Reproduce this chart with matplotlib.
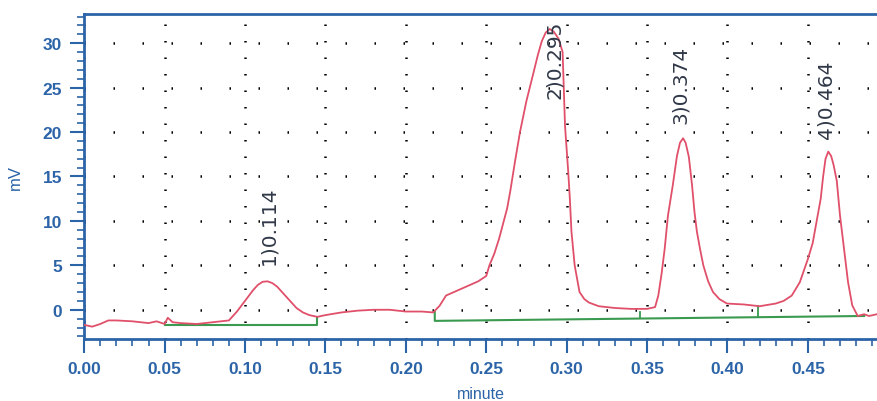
import numpy as np
import matplotlib.pyplot as plt

# 色谱曲线数据
t = [0.000, 0.005, 0.010, 0.015, 0.020, 0.030, 0.040, 0.045, 0.050, 0.052, 0.055,
     0.060, 0.070, 0.080, 0.090, 0.095, 0.100, 0.105, 0.108, 0.111, 0.114, 0.117,
     0.120, 0.124, 0.128, 0.132, 0.136, 0.140, 0.145, 0.150, 0.160, 0.170, 0.180,
     0.190, 0.200, 0.210, 0.217, 0.221, 0.225, 0.230, 0.235, 0.240, 0.245, 0.250,
     0.252, 0.255, 0.258, 0.263, 0.265, 0.268, 0.271, 0.275, 0.279, 0.282, 0.2845,
     0.287, 0.2895, 0.292, 0.295, 0.2975, 0.299, 0.301, 0.302, 0.303, 0.305, 0.308,
     0.311, 0.314, 0.320, 0.330, 0.340, 0.350, 0.355, 0.357, 0.359, 0.361, 0.363,
     0.366, 0.3686, 0.3705, 0.3724, 0.374, 0.376, 0.378, 0.3795, 0.381, 0.383,
     0.385, 0.388, 0.391, 0.395, 0.3997, 0.410, 0.420, 0.430, 0.435, 0.440, 0.445,
     0.450, 0.453, 0.455, 0.458, 0.4595, 0.461, 0.4627, 0.4645, 0.466, 0.468,
     0.470, 0.473, 0.475, 0.4776, 0.481, 0.485, 0.488, 0.493]
mv = [-1.7, -1.9, -1.6, -1.2, -1.2, -1.3, -1.5, -1.3, -1.6, -0.9, -1.4,
      -1.5, -1.6, -1.4, -1.2, -0.2, 1.0, 2.2, 2.8, 3.15, 3.2, 3.0,
      2.6, 1.8, 1.0, 0.2, -0.3, -0.6, -0.8, -0.6, -0.3, -0.1, 0.0,
      0.0, -0.2, -0.2, -0.3, 0.45, 1.6, 2.0, 2.4, 2.8, 3.2, 3.8,
      5.0, 6.3, 8.0, 11.4, 13.4, 16.8, 20.0, 23.5, 26.4, 28.6, 30.2,
      31.2, 31.6, 31.3, 30.5, 29.0, 20.7, 15.5, 12.5, 8.8, 5.0, 2.0,
      1.2, 0.8, 0.4, 0.2, 0.1, 0.1, 0.3, 1.6, 4.0, 6.9, 10.6,
      14.0, 17.3, 18.8, 19.3, 18.8, 17.2, 14.0, 11.0, 8.8, 6.8,
      5.0, 3.2, 2.0, 1.2, 0.7, 0.6, 0.4, 0.7, 1.0, 1.6, 3.1,
      5.7, 7.5, 9.5, 12.5, 15.0, 17.0, 17.8, 17.3, 16.3, 14.5,
      10.6, 6.1, 3.1, 0.5, -0.7, -0.5, -0.7, -0.5]

# 基线 (绿色)
base1_t = [0.050, 0.145, 0.145]
base1_v = [-1.7, -1.7, -0.8]
base2_t = [0.218, 0.218, 0.485]
base2_v = [-0.2, -1.25, -0.7]
split_t = [0.3456, 0.419]
split_top = [-0.2, 0.4]
split_bot = [-0.95, -0.8]

# 峰标注
peak_t = [0.1145, 0.2925, 0.3705, 0.4615]
peak_y = [5.2, 23.8, 21.0, 19.3]
peak_txt = ['1)0.114', '2)0.295', '3)0.374', '4)0.464']

blue = '#2c64a8'
fig = plt.figure(figsize=(8.77, 4.02), dpi=100)
ax = fig.add_axes([0.096, 0.154, 0.904, 0.809])

ax.plot(t, mv, color='#e0506a', lw=1.3, zorder=3)
ax.plot(base1_t, base1_v, color='#3a9a50', lw=1.5, zorder=2)
ax.plot(base2_t, base2_v, color='#3a9a50', lw=1.5, zorder=2)
for x, a, b in zip(split_t, split_top, split_bot):
    ax.plot([x, x], [a, b], color='#3a9a50', lw=1.3, zorder=2)

for x, y, s in zip(peak_t, peak_y, peak_txt):
    ax.text(x, y, s, rotation=90, ha='center', va='bottom', fontsize=14.5,
            color='#303848', family='DejaVu Sans')

ax.set_xlim(0, 0.493)
ax.set_ylim(-3.3, 33.3)
ax.set_xticks(np.arange(0, 0.46, 0.05))
ax.set_xticks(np.arange(0, 0.493, 0.01), minor=True)
ax.set_yticks(np.arange(0, 31, 5))
ax.set_yticks(np.arange(-3, 34, 1), minor=True)
ax.set_xticklabels(['%.2f' % v for v in np.arange(0, 0.46, 0.05)])

ax.grid(True, which='major', axis='x', color='black', lw=1.8, linestyle=(0, (0.6, 6)))
ax.grid(True, which='major', axis='y', color='black', lw=1.8, linestyle=(0, (0.6, 11)))

for side in ['left', 'bottom', 'top']:
    ax.spines[side].set_color(blue)
    ax.spines[side].set_linewidth(2)
ax.spines['right'].set_visible(False)

ax.tick_params(which='major', length=10, width=1.5, color=blue, labelcolor=blue,
               labelsize=12.5, pad=6)
ax.tick_params(which='minor', length=5, width=1.2, color=blue)
for lab in ax.get_xticklabels() + ax.get_yticklabels():
    lab.set_family('Liberation Sans')
    lab.set_fontweight('bold')

ax.set_xlabel('minute', color=blue, fontsize=11.5, family='Liberation Sans', labelpad=7)
ax.set_ylabel('mV', color=blue, fontsize=12, family='Liberation Sans', labelpad=14)

fig.savefig('out.png', dpi=100)
